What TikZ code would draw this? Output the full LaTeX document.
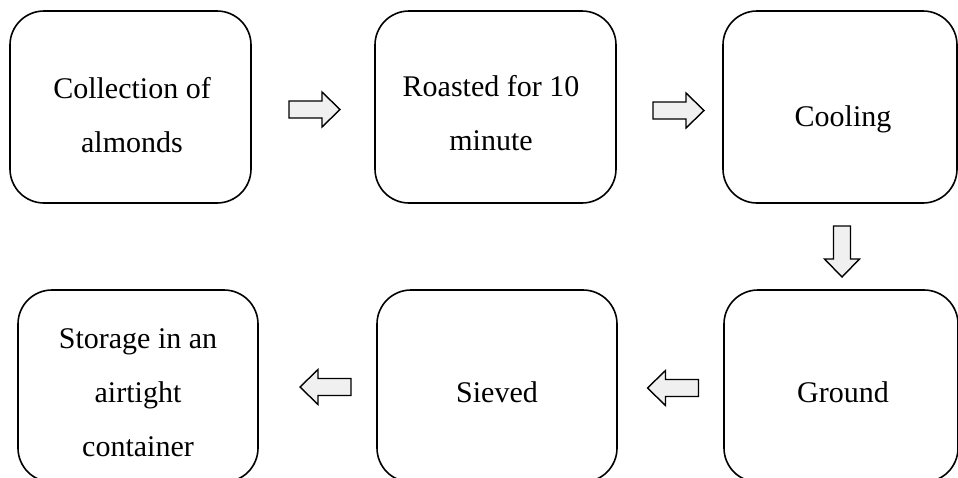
\documentclass[tikz,border=0pt]{standalone}
\usepackage{fontspec}
\setmainfont{Liberation Serif}
\definecolor{arrowfill}{HTML}{F0F0F0}
\tikzset{
  stepbox/.style={draw=black, line width=1.6pt, rounded corners=34pt, inner sep=0pt},
  steptext/.style={align=center, inner sep=0pt, font=\fontsize{30pt}{54pt}\selectfont},
  blockarrow/.pic={
    \draw[line width=1.4pt, fill=arrowfill, line join=miter]
      (-25.5,-8.5) -- (7.5,-8.5) -- (7.5,-17.5) -- (25.5,0) -- (7.5,17.5) -- (7.5,8.5) -- (-25.5,8.5) -- cycle;
  }
}
\begin{document}
\begin{tikzpicture}[x=1pt,y=-1pt]
\useasboundingbox (0,0) rectangle (958,477);
\clip (0,0) rectangle (958,477);
\fill[white] (0,0) rectangle (958,477);
% boxes
\node[stepbox, minimum width=241pt, minimum height=192pt] (b1) at (130.5,107) {};
\node[stepbox, minimum width=241pt, minimum height=192pt] (b2) at (495.5,107) {};
\node[stepbox, minimum width=234pt, minimum height=192pt] (b3) at (840,107) {};
\node[stepbox, minimum width=240pt, minimum height=192pt] (b4) at (138,386) {};
\node[stepbox, minimum width=240pt, minimum height=192pt] (b5) at (497,386) {};
\node[stepbox, minimum width=234pt, minimum height=192pt] (b6) at (841,386) {};
% texts
\node[steptext] (t1) at (132,115) {Collection of\\almonds};
\node[steptext] (t2) at (491,113.5) {Roasted for 10\\minute};
\node[steptext] (t3) at (843,119) {Cooling};
\node[steptext] (t4) at (138,392.5) {Storage in an\\airtight\\container};
\node[steptext] (t5) at (497,392) {Sieved};
\node[steptext] (t6) at (843,392) {Ground};
% block arrows
\pic at (314.5,109.5) {blockarrow};
\pic at (678.5,110.5) {blockarrow};
\pic[rotate=-90] at (842,251.5) {blockarrow};
\pic[rotate=180] at (673,388) {blockarrow};
\pic[rotate=180] at (325.5,387) {blockarrow};
\end{tikzpicture}
\end{document}
